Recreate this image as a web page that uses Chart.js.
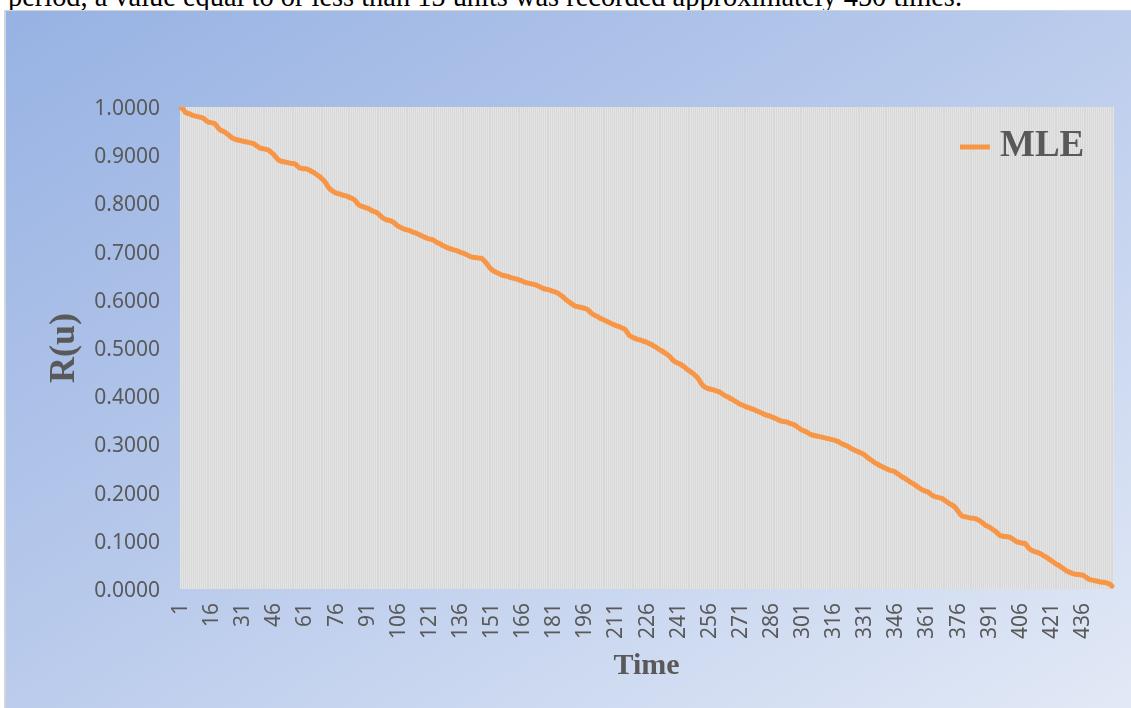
<!DOCTYPE html>
<html>
<head>
<meta charset="utf-8">
<script src="https://cdn.jsdelivr.net/npm/chart.js@4.4.1/dist/chart.umd.min.js"></script>
<style>
  html, body { margin: 0; padding: 0; background: #fff; width: 1131px; height: 708px; overflow: hidden; }
  #caption {
    position: absolute; left: 8px; top: -17px; white-space: nowrap; line-height: 28px;
    font-family: "Liberation Serif", "Times New Roman", serif; font-size: 28.4px; color: #000;
  }
  #box {
    position: absolute; left: 4px; top: 10px; width: 1127px; height: 698px; box-sizing: border-box;
    border-left: 2px solid #d2d6dc; border-top: 1px solid #cfd5de;
    background: linear-gradient(to bottom right, #97b2e3 0%, #b7c9eb 45%, #e2e9f6 100%);
  }
  #chart { display: block; }
</style>
</head>
<body>
<div id="caption">period, a value equal to or less than 15 units was recorded approximately 450 times.</div>
<div id="box"><canvas id="chart" width="1125" height="697"></canvas></div>
<script>
// time index 1..450
const times = Array.from({ length: 450 }, (_, i) => String(i + 1));

// R(u), MLE curve
const mle = [
  0.998, 0.996, 0.989, 0.987, 0.986, 0.984, 0.982, 0.981, 0.980, 0.979,
  0.978, 0.976, 0.972, 0.969, 0.968, 0.967, 0.966, 0.962, 0.956, 0.952,
  0.950, 0.948, 0.945, 0.942, 0.938, 0.935, 0.933, 0.932, 0.931, 0.930,
  0.929, 0.928, 0.927, 0.926, 0.925, 0.924, 0.921, 0.918, 0.915, 0.914,
  0.913, 0.912, 0.911, 0.908, 0.904, 0.900, 0.895, 0.890, 0.888, 0.887,
  0.886, 0.885, 0.884, 0.883, 0.883, 0.882, 0.878, 0.874, 0.873, 0.872,
  0.872, 0.871, 0.869, 0.866, 0.864, 0.861, 0.858, 0.855, 0.851, 0.847,
  0.841, 0.834, 0.829, 0.826, 0.823, 0.821, 0.820, 0.819, 0.817, 0.816,
  0.815, 0.813, 0.811, 0.809, 0.806, 0.800, 0.796, 0.794, 0.793, 0.791,
  0.790, 0.788, 0.785, 0.783, 0.782, 0.779, 0.775, 0.771, 0.768, 0.766,
  0.765, 0.764, 0.762, 0.759, 0.755, 0.752, 0.750, 0.748, 0.746, 0.745,
  0.744, 0.742, 0.740, 0.739, 0.737, 0.735, 0.733, 0.731, 0.729, 0.727,
  0.726, 0.725, 0.723, 0.720, 0.718, 0.716, 0.713, 0.711, 0.709, 0.707,
  0.706, 0.704, 0.703, 0.702, 0.700, 0.698, 0.697, 0.695, 0.693, 0.691,
  0.689, 0.688, 0.688, 0.687, 0.686, 0.686, 0.682, 0.677, 0.672, 0.666,
  0.662, 0.659, 0.657, 0.655, 0.653, 0.651, 0.650, 0.649, 0.648, 0.646,
  0.645, 0.644, 0.643, 0.641, 0.640, 0.638, 0.636, 0.635, 0.634, 0.633,
  0.632, 0.631, 0.629, 0.627, 0.625, 0.623, 0.622, 0.621, 0.620, 0.618,
  0.617, 0.615, 0.613, 0.610, 0.607, 0.603, 0.599, 0.596, 0.593, 0.590,
  0.587, 0.586, 0.585, 0.584, 0.583, 0.582, 0.580, 0.576, 0.572, 0.569,
  0.567, 0.565, 0.562, 0.560, 0.558, 0.556, 0.554, 0.552, 0.550, 0.548,
  0.546, 0.545, 0.543, 0.541, 0.539, 0.534, 0.527, 0.524, 0.522, 0.520,
  0.518, 0.517, 0.516, 0.514, 0.513, 0.511, 0.509, 0.507, 0.504, 0.502,
  0.499, 0.496, 0.494, 0.491, 0.488, 0.485, 0.481, 0.476, 0.472, 0.470,
  0.468, 0.466, 0.463, 0.460, 0.456, 0.453, 0.450, 0.447, 0.443, 0.439,
  0.433, 0.426, 0.421, 0.418, 0.416, 0.415, 0.414, 0.413, 0.411, 0.410,
  0.408, 0.405, 0.402, 0.400, 0.398, 0.395, 0.393, 0.390, 0.388, 0.385,
  0.383, 0.381, 0.379, 0.377, 0.376, 0.374, 0.373, 0.371, 0.369, 0.367,
  0.365, 0.363, 0.361, 0.360, 0.359, 0.357, 0.355, 0.353, 0.351, 0.349,
  0.348, 0.347, 0.347, 0.345, 0.343, 0.342, 0.340, 0.337, 0.334, 0.331,
  0.329, 0.327, 0.325, 0.322, 0.320, 0.319, 0.318, 0.317, 0.316, 0.315,
  0.314, 0.313, 0.312, 0.311, 0.310, 0.309, 0.307, 0.306, 0.303, 0.301,
  0.299, 0.297, 0.295, 0.292, 0.290, 0.288, 0.286, 0.284, 0.282, 0.280,
  0.277, 0.273, 0.270, 0.267, 0.264, 0.261, 0.259, 0.256, 0.254, 0.252,
  0.250, 0.248, 0.246, 0.245, 0.244, 0.241, 0.238, 0.235, 0.232, 0.230,
  0.227, 0.224, 0.221, 0.219, 0.216, 0.213, 0.210, 0.207, 0.205, 0.203,
  0.202, 0.199, 0.195, 0.193, 0.191, 0.190, 0.189, 0.188, 0.185, 0.182,
  0.179, 0.176, 0.174, 0.171, 0.166, 0.160, 0.154, 0.151, 0.150, 0.149,
  0.148, 0.147, 0.147, 0.146, 0.144, 0.142, 0.139, 0.136, 0.132, 0.130,
  0.128, 0.125, 0.122, 0.119, 0.115, 0.111, 0.110, 0.109, 0.109, 0.108,
  0.107, 0.104, 0.101, 0.098, 0.097, 0.096, 0.095, 0.095, 0.090, 0.084,
  0.081, 0.079, 0.077, 0.076, 0.074, 0.072, 0.069, 0.067, 0.064, 0.061,
  0.058, 0.055, 0.052, 0.050, 0.047, 0.044, 0.041, 0.038, 0.036, 0.034,
  0.032, 0.031, 0.030, 0.030, 0.029, 0.029, 0.026, 0.023, 0.020, 0.019,
  0.018, 0.017, 0.016, 0.015, 0.014, 0.014, 0.013, 0.012, 0.010, 0.006
];

const labelEvery = 15;
const serif = '"Liberation Serif", "Times New Roman", serif';
const sans = '"Noto Sans", "Open Sans", sans-serif';
const textGray = '#595959';

// gray plot area behind the grid
const plotBackground = {
  id: 'plotBackground',
  beforeDraw(chart) {
    const { ctx, chartArea: a } = chart;
    ctx.save();
    ctx.fillStyle = '#d8d8d8';
    ctx.fillRect(a.left, a.top, a.right - a.left, a.bottom - a.top);
    ctx.restore();
  }
};

// legend drawn inside the plot, top right, like the Excel one
const insideLegend = {
  id: 'insideLegend',
  afterDraw(chart) {
    const { ctx, chartArea: a } = chart;
    const ds = chart.data.datasets[0];
    const y = a.top + 39;
    const x0 = a.right - 153;
    ctx.save();
    ctx.strokeStyle = ds.borderColor;
    ctx.lineWidth = 5;
    ctx.beginPath();
    ctx.moveTo(x0, y + 1);
    ctx.lineTo(x0 + 30, y + 1);
    ctx.stroke();
    ctx.fillStyle = textGray;
    ctx.font = 'bold 37px ' + serif;
    ctx.textBaseline = 'middle';
    ctx.fillText(ds.label, x0 + 40, y);
    ctx.restore();
  }
};

new Chart(document.getElementById('chart'), {
  type: 'line',
  data: {
    labels: times,
    datasets: [{
      label: 'MLE',
      data: mle,
      borderColor: '#f79646',
      borderWidth: 5,
      borderCapStyle: 'round',
      borderJoinStyle: 'round',
      pointRadius: 0,
      tension: 0,
      fill: false
    }]
  },
  options: {
    responsive: false,
    animation: false,
    layout: { padding: { left: 20, right: 18, top: 96, bottom: 0 } },
    plugins: {
      legend: { display: false },
      tooltip: { enabled: false }
    },
    scales: {
      x: {
        offset: true,
        afterFit: s => { s.height = 119; s.paddingLeft = 0; s.paddingRight = 0; },
        grid: { display: true, offset: true, color: '#e4e4e4', lineWidth: 1, drawTicks: false },
        border: { display: false },
        ticks: {
          autoSkip: false,
          minRotation: 90,
          maxRotation: 90,
          padding: 14,
          color: textGray,
          font: { family: sans, size: 21 },
          callback: (v, i) => (i % labelEvery === 0 ? times[i] : '')
        },
        title: {
          display: true,
          text: 'Time',
          color: textGray,
          font: { family: serif, size: 30, weight: 'bold' },
          padding: { top: 0, bottom: 24 }
        }
      },
      y: {
        min: 0,
        max: 1,
        afterFit: s => { s.width = 154; s.paddingTop = 0; s.paddingBottom = 0; },
        grid: { display: false, drawTicks: false },
        border: { display: false },
        ticks: {
          stepSize: 0.1,
          padding: 20,
          labelOffset: 2,
          color: textGray,
          font: { family: sans, size: 21 },
          callback: v => Number(v).toFixed(4)
        },
        title: {
          display: true,
          text: 'R(u)',
          color: textGray,
          font: { family: serif, size: 36, weight: 'bold' },
          padding: { top: 17, bottom: 0 }
        }
      }
    }
  },
  plugins: [plotBackground, insideLegend]
});
</script>
</body>
</html>
